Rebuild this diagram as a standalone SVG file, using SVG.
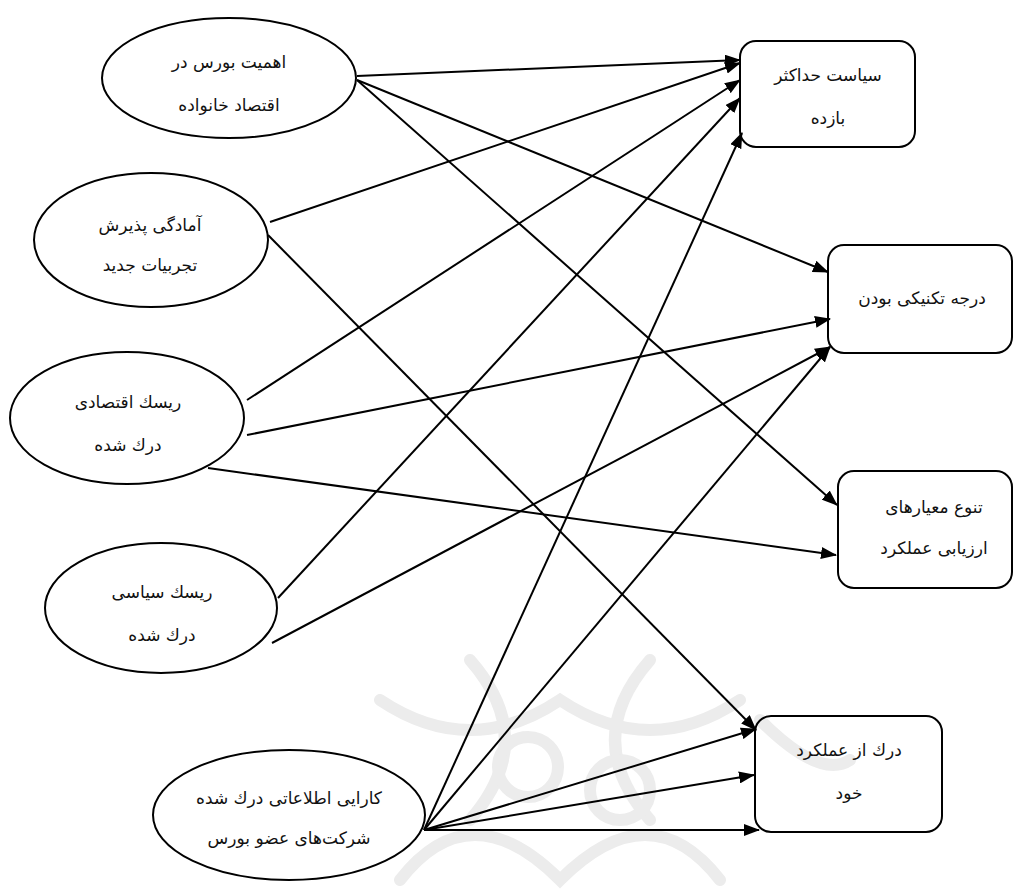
<svg xmlns="http://www.w3.org/2000/svg" width="1015" height="891" viewBox="0 0 1015 891">
<defs>
<style>
.node ellipse,.node rect{fill:none;stroke:#000;stroke-width:2}
.node text{font-family:"DejaVu Sans","Noto Sans",sans-serif;font-size:17px;fill:#111;text-anchor:middle}
.edges line{stroke:#000;stroke-width:2;marker-end:url(#ah)}
.wm path,.wm circle{fill:none;stroke:#ececec;stroke-width:12;stroke-linecap:round}
</style>
<marker id="ah" markerUnits="userSpaceOnUse" markerWidth="16" markerHeight="12" refX="15" refY="6" orient="auto">
<path d="M0,0 L16,6 L0,12 z" fill="#000"/>
</marker>
</defs>
<rect width="1015" height="891" fill="#fff"/>
<g class="wm">
<path d="M380,700 Q470,760 560,700 Q650,760 740,700"/>
<path d="M400,880 Q470,790 560,880 Q650,790 720,880"/>
<path d="M470,660 Q540,740 470,820"/>
<path d="M650,660 Q580,740 650,820"/>
<path d="M760,720 Q820,780 850,760"/>
<circle cx="528" cy="767" r="30"/>
<circle cx="620" cy="790" r="30"/>
</g>
<g class="edges">
<line x1="357" y1="76" x2="740" y2="60"/>
<line x1="357" y1="80" x2="828" y2="272"/>
<line x1="357" y1="80" x2="837" y2="505"/>
<line x1="270" y1="222" x2="740" y2="63"/>
<line x1="268" y1="235" x2="756" y2="730"/>
<line x1="247" y1="400" x2="740" y2="80"/>
<line x1="247" y1="435" x2="830" y2="319"/>
<line x1="208" y1="468" x2="836" y2="555"/>
<line x1="278" y1="598" x2="740" y2="98"/>
<line x1="272" y1="643" x2="830" y2="347"/>
<line x1="424" y1="830" x2="742" y2="133"/>
<line x1="424" y1="830" x2="830" y2="347"/>
<line x1="424" y1="830" x2="756" y2="729"/>
<line x1="424" y1="830" x2="754" y2="775"/>
<line x1="424" y1="830" x2="759" y2="830"/>
</g>
<g id="n1" class="node"><ellipse cx="229" cy="78" rx="127" ry="60"/><text x="229" y="68">اهمیت بورس در</text><text x="229" y="111">اقتصاد خانواده</text></g>
<g id="n2" class="node"><ellipse cx="151" cy="240" rx="117" ry="67"/><text x="150" y="231">آمادگی پذیرش</text><text x="150" y="271">تجربیات جدید</text></g>
<g id="n3" class="node"><ellipse cx="127" cy="418" rx="117" ry="66"/><text x="128" y="408">ریسك اقتصادی</text><text x="128" y="451">درك شده</text></g>
<g id="n4" class="node"><ellipse cx="161" cy="608" rx="116" ry="65"/><text x="162" y="598">ریسك سیاسی</text><text x="162" y="641">درك شده</text></g>
<g id="n5" class="node"><ellipse cx="289" cy="815" rx="136" ry="65"/><text x="289" y="804">کارایی اطلاعاتی درك شده</text><text x="289" y="844">شرکت‌های عضو بورس</text></g>
<g id="b1" class="node"><rect x="740" y="41" width="175" height="106" rx="16"/><text x="828" y="81">سیاست حداکثر</text><text x="828" y="124">بازده</text></g>
<g id="b2" class="node"><rect x="828" y="245" width="184" height="108" rx="16"/><text x="922" y="304">درجه تکنیکی بودن</text></g>
<g id="b3" class="node"><rect x="838" y="471" width="174" height="117" rx="16"/><text x="934" y="513">تنوع معیارهای</text><text x="934" y="554">ارزیابی عملکرد</text></g>
<g id="b4" class="node"><rect x="755" y="716" width="187" height="116" rx="16"/><text x="849" y="756">درك از عملکرد</text><text x="849" y="799">خود</text></g>
</svg>
